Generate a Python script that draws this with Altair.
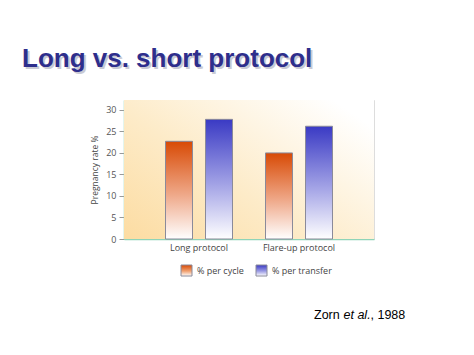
import altair as alt
import pandas as pd

groups = ["Long protocol", "Flare-up protocol"]
series = ["% per cycle", "% per transfer"]
per_cycle = [22.7, 20.0]
per_transfer = [27.8, 26.2]
y_ticks = [0, 5, 10, 15, 20, 25, 30]
title_text = ["Long vs. short protocol"]
cite_author = ["Zorn"]
cite_etal = ["et al."]
cite_year = [", 1988"]

rows = []
for g, c, t in zip(groups, per_cycle, per_transfer):
    rows.append({"group": g, "series": series[0], "value": c})
    rows.append({"group": g, "series": series[1], "value": t})
df = pd.DataFrame(rows)

ORANGE_TOP = "#D84A05"
BLUE_TOP = "#3A3AC4"


def vgrad(top, mid):
    return {"gradient": "linear", "x1": 0, "y1": 0, "x2": 0, "y2": 1,
            "stops": [{"offset": 0, "color": top},
                      {"offset": 0.55, "color": mid},
                      {"offset": 1, "color": "#FFFFFF"}]}


orange_grad = vgrad(ORANGE_TOP, "#EFA98A")
blue_grad = vgrad(BLUE_TOP, "#A4A4E6")

bg_grad = {"gradient": "linear", "x1": 0, "y1": 1, "x2": 1, "y2": 0.2,
           "stops": [{"offset": 0, "color": "#FCDCA2"},
                     {"offset": 0.45, "color": "#FDEBC8"},
                     {"offset": 1, "color": "#FFFFFF"}]}

W, H = 250, 139
FONT = "Open Sans"
STROKE = "#8A8A9A"

one = pd.DataFrame({"a": [0]})

background = alt.Chart(one).mark_rect(fill=bg_grad).encode(
    x=alt.value(0), x2=alt.value(W), y=alt.value(0), y2=alt.value(H)
)

bars = alt.Chart(df).mark_bar(stroke=STROKE, strokeWidth=1).encode(
    x=alt.X("group:N", sort=groups,
            scale=alt.Scale(paddingInner=0, paddingOuter=0.25),
            axis=alt.Axis(title=None, labelAngle=0, ticks=False, domainColor="#8FD4B8",
                          domainWidth=1.5, labelFontSize=9, labelColor="#444",
                          labelFont=FONT, labelPadding=4)),
    xOffset=alt.XOffset("series:N", sort=series,
                        scale=alt.Scale(paddingInner=0.325, paddingOuter=0.4125)),
    y=alt.Y("value:Q", scale=alt.Scale(domain=[0, 32.3], nice=False),
            axis=alt.Axis(values=y_ticks, title="Pregnancy rate %", grid=False,
                          domainColor="#8FD4B8", domainWidth=1.5, tickColor="#999",
                          tickSize=5, labelFontSize=9, labelColor="#555", labelFont=FONT,
                          labelPadding=3, titleFont=FONT, titleFontSize=8.5,
                          titleFontWeight="normal", titleColor="#444", titlePadding=6)),
    fill=alt.Fill("series:N", sort=series,
                  scale=alt.Scale(domain=series, range=["#E06A2A", "#5A5AD0"]),
                  legend=None,
                  condition=[{"test": "datum.series === '% per cycle'", "value": orange_grad},
                             {"test": "datum.series === '% per transfer'", "value": blue_grad}]),
)

# manual legend (gradient swatches)
leg_grad_o = vgrad(ORANGE_TOP, "#F0A070")
leg_grad_b = vgrad(BLUE_TOP, "#9A9AE4")
LY0, LY1 = 165, 176
sw1 = alt.Chart(one).mark_rect(fill=leg_grad_o, stroke=STROKE, strokeWidth=1).encode(
    x=alt.value(57), x2=alt.value(68), y=alt.value(LY0), y2=alt.value(LY1))
sw2 = alt.Chart(one).mark_rect(fill=leg_grad_b, stroke=STROKE, strokeWidth=1).encode(
    x=alt.value(132), x2=alt.value(143), y=alt.value(LY0), y2=alt.value(LY1))
lab1 = alt.Chart(pd.DataFrame({"t": [series[0]]})).mark_text(
    font=FONT, fontSize=9, color="#444", align="left", baseline="middle"
).encode(text="t:N", x=alt.value(73), y=alt.value((LY0 + LY1) / 2))
lab2 = alt.Chart(pd.DataFrame({"t": [series[1]]})).mark_text(
    font=FONT, fontSize=9, color="#444", align="left", baseline="middle"
).encode(text="t:N", x=alt.value(148), y=alt.value((LY0 + LY1) / 2))

title_shadow = alt.Chart(pd.DataFrame({"t": title_text})).mark_text(
    font="Liberation Sans", fontWeight="bold", fontSize=26, color="#A8A8B8",
    align="left", baseline="alphabetic", opacity=0.6
).encode(text="t:N", x=alt.value(-100), y=alt.value(-31))

title = alt.Chart(pd.DataFrame({"t": title_text})).mark_text(
    font="Liberation Sans", fontWeight="bold", fontSize=26, color="#2E2E8C",
    align="left", baseline="alphabetic"
).encode(text="t:N", x=alt.value(-102), y=alt.value(-33))

cite1 = alt.Chart(pd.DataFrame({"t": cite_author})).mark_text(
    font="Liberation Sans", fontSize=12.5, color="#000", align="left", baseline="alphabetic"
).encode(text="t:N", x=alt.value(190), y=alt.value(219))

cite2 = alt.Chart(pd.DataFrame({"t": cite_etal})).mark_text(
    font="Liberation Sans", fontSize=12.5, fontStyle="italic", color="#000",
    align="left", baseline="alphabetic"
).encode(text="t:N", x=alt.value(219.5), y=alt.value(219))

cite3 = alt.Chart(pd.DataFrame({"t": cite_year})).mark_text(
    font="Liberation Sans", fontSize=12.5, color="#000", align="left", baseline="alphabetic"
).encode(text="t:N", x=alt.value(246.5), y=alt.value(219))

chart = alt.layer(background, bars, sw1, sw2, lab1, lab2, title_shadow, title,
                  cite1, cite2, cite3).properties(
    width=W, height=H,
    autosize=alt.AutoSizeParams(type="none"),
    padding={"left": 116, "top": 92, "right": 92, "bottom": 100},
).configure_view(stroke=None).configure(background="white")

chart.save("out.html", embed_options={"renderer": "svg", "actions": False})
